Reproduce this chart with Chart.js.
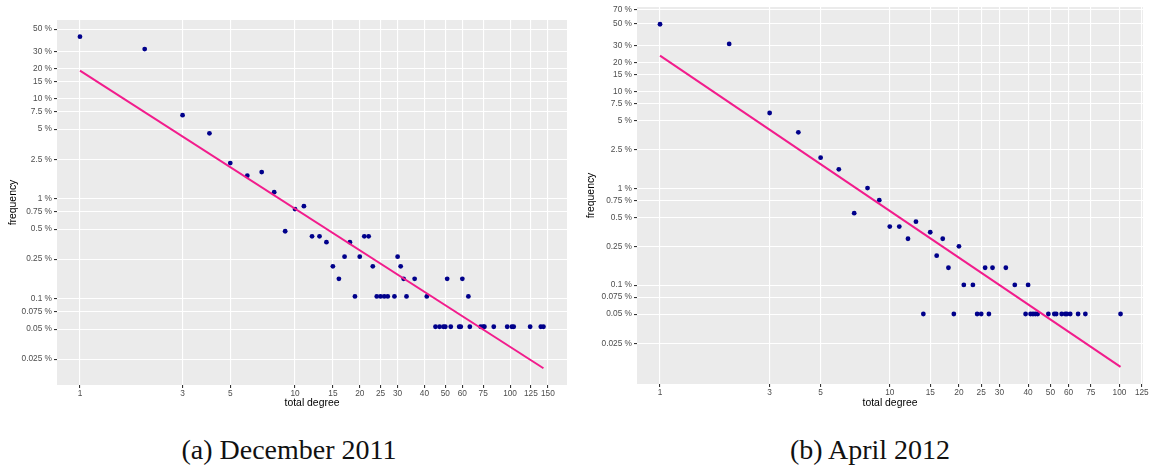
<!DOCTYPE html>
<html>
<head>
<meta charset="utf-8">
<script src="https://cdn.jsdelivr.net/npm/chart.js@4/dist/chart.umd.min.js"></script>
<style>
  html, body { margin: 0; padding: 0; background: #fff; }
  body { width: 1157px; height: 468px; position: relative; overflow: hidden; }
  canvas { position: absolute; top: 0; }
  #chartA { left: 0; }
  #chartB { left: 578px; }
  .caption {
    position: absolute;
    top: 434px;
    font-family: "Liberation Serif", "DejaVu Serif", serif;
    font-size: 28px;
    color: #111;
    white-space: nowrap;
    transform: translateX(-50%);
  }
</style>
</head>
<body>
<canvas id="chartA" width="575" height="420"></canvas>
<canvas id="chartB" width="579" height="420"></canvas>
<div class="caption" style="left:289px">(a) December 2011</div>
<div class="caption" style="left:870px">(b) April 2012</div>
<script>
// December 2011: degree vs frequency (%)
const decDegree = [1, 2, 3, 4, 5, 6, 7, 8, 9, 10, 11, 12, 13, 14, 15, 16, 17, 18, 19, 20,
    21, 22, 23, 24, 25, 26, 27, 29, 30, 31, 32, 33, 36, 41, 45, 47, 49, 50, 51, 53,
    58, 59, 60, 64, 65, 73, 75, 76, 84, 97, 102, 104, 124, 139, 143];
const decFreq = [42.0, 31.6, 6.9, 4.54, 2.29, 1.71, 1.86, 1.17, 0.476, 0.794, 0.847, 0.423, 0.423, 0.37, 0.212, 0.159, 0.265, 0.37, 0.106, 0.265,
    0.423, 0.423, 0.212, 0.106, 0.106, 0.106, 0.106, 0.106, 0.265, 0.212, 0.159, 0.106, 0.159, 0.106, 0.0528, 0.0528, 0.0528, 0.0528, 0.159, 0.0528,
    0.0528, 0.0528, 0.159, 0.106, 0.0528, 0.0528, 0.0528, 0.0528, 0.0528, 0.0528, 0.0528, 0.0528, 0.0528, 0.0528, 0.0528];
const decFitDegree = [1, 143];
const decFitFreq = [19.2, 0.0203];

// April 2012
const aprDegree = [1, 2, 3, 4, 5, 6, 7, 8, 9, 10, 11, 12, 13, 14, 15, 16, 17, 18, 19, 20,
    21, 23, 24, 25, 26, 27, 28, 32, 35, 39, 40, 41, 42, 43, 44, 49, 52, 53, 56, 58,
    59, 61, 66, 71, 101];
const aprFreq = [49.5, 31.0, 5.99, 3.78, 2.07, 1.57, 0.553, 1.004, 0.753, 0.402, 0.402, 0.301, 0.452, 0.0502, 0.351, 0.201, 0.301, 0.151, 0.0502, 0.251,
    0.1004, 0.1004, 0.0502, 0.0502, 0.151, 0.0502, 0.151, 0.151, 0.1004, 0.0502, 0.1004, 0.0502, 0.0502, 0.0502, 0.0502, 0.0502, 0.0502, 0.0502, 0.0502, 0.0502,
    0.0502, 0.0502, 0.0502, 0.0502, 0.0502];
const aprFitDegree = [1, 101];
const aprFitFreq = [23.5, 0.0143];

// tick breaks
const decXTicks = [1, 3, 5, 10, 15, 20, 25, 30, 40, 50, 60, 75, 100, 125, 150];
const aprXTicks = [1, 3, 5, 10, 15, 20, 25, 30, 40, 50, 60, 75, 100, 125];
const decYTicks = [0.025, 0.05, 0.075, 0.1, 0.25, 0.5, 0.75, 1, 2.5, 5, 7.5, 10, 15, 20, 30, 50];
const aprYTicks = [0.025, 0.05, 0.075, 0.1, 0.25, 0.5, 0.75, 1, 2.5, 5, 7.5, 10, 15, 20, 30, 50, 70];

const zip = (xs, ys) => xs.map((x, i) => ({ x: x, y: ys[i] }));

// grey panel behind the plot area
const panelBg = {
    id: "panelBg",
    beforeDraw(chart) {
        const { ctx, chartArea: a } = chart;
        ctx.save();
        ctx.fillStyle = "#EBEBEB";
        ctx.fillRect(a.left, a.top, a.right - a.left, a.bottom - a.top);
        ctx.restore();
    },
};

const tickFont = { family: "'Liberation Sans', Arial, sans-serif", size: 8.3 };
const titleFont = { family: "'Liberation Sans', Arial, sans-serif", size: 10.4 };

const makePanel = (id, cfg) => {
    new Chart(document.getElementById(id), {
        type: "scatter",
        data: {
            datasets: [
                {
                    data: zip(cfg.fitX, cfg.fitY),
                    type: "line",
                    showLine: true,
                    borderColor: "#F21C8C",
                    borderWidth: 2,
                    pointRadius: 0,
                    fill: false,
                    order: 0,
                },
                {
                    data: zip(cfg.x, cfg.y),
                    backgroundColor: "#00008B",
                    borderWidth: 0,
                    pointRadius: 2.4,
                    order: 1,
                },
            ],
        },
        options: {
            responsive: false,
            animation: false,
            layout: { padding: cfg.padding },
            plugins: { legend: { display: false }, tooltip: { enabled: false } },
            scales: {
                x: {
                    type: "logarithmic",
                    min: cfg.xMin,
                    max: cfg.xMax,
                    bounds: "data",
                    afterBuildTicks: (s) => { s.ticks = cfg.xTicks.map((v) => ({ value: v })); },
                    afterFit: (s) => { s.height = cfg.xHeight; },
                    grid: { color: "#FFFFFF", lineWidth: 1.1, tickColor: "#333333", tickLength: 3, drawTicks: true },
                    border: { display: false },
                    ticks: {
                        autoSkip: false, maxRotation: 0, padding: 1,
                        color: "#4D4D4D", font: tickFont,
                        callback: (v) => String(v),
                    },
                    title: { display: true, text: "total degree", color: "#000", font: titleFont, padding: { top: 0, bottom: 10.8 } },
                },
                y: {
                    type: "logarithmic",
                    min: cfg.yMin,
                    max: cfg.yMax,
                    bounds: "data",
                    afterBuildTicks: (s) => { s.ticks = cfg.yTicks.map((v) => ({ value: v })); },
                    afterFit: (s) => { s.width = cfg.yWidth; },
                    grid: { color: "#FFFFFF", lineWidth: 1.1, tickColor: "#333333", tickLength: 3, drawTicks: true },
                    border: { display: false },
                    ticks: {
                        autoSkip: false, padding: 2,
                        color: "#4D4D4D", font: tickFont,
                        callback: (v) => String(v) + " %",
                    },
                    title: { display: true, text: "frequency", color: "#000", font: titleFont, padding: { top: cfg.yTitlePad, bottom: 0 } },
                },
            },
        },
        plugins: [panelBg],
    });
};

makePanel("chartA", {
    x: decDegree, y: decFreq, fitX: decFitDegree, fitY: decFitFreq,
    xTicks: decXTicks, yTicks: decYTicks,
    xMin: 0.782, xMax: 184, yMin: 0.0138, yMax: 61.7,
    padding: { top: 20, right: 8, bottom: 0, left: 0 },
    xHeight: 35, yWidth: 57, yTitlePad: 7.3,
});

makePanel("chartB", {
    x: aprDegree, y: aprFreq, fitX: aprFitDegree, fitY: aprFitFreq,
    xTicks: aprXTicks, yTicks: aprYTicks,
    xMin: 0.794, xMax: 126.5, yMin: 0.0095, yMax: 74.6,
    padding: { top: 7, right: 14, bottom: 0, left: 0 },
    xHeight: 36, yWidth: 59, yTitlePad: 6.8,
});
</script>
</body>
</html>
